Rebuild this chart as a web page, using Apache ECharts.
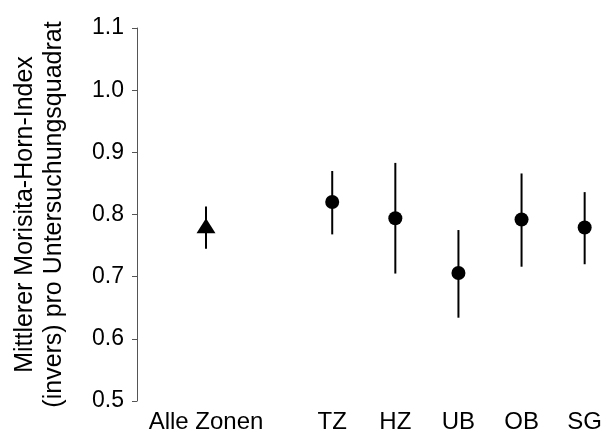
<!DOCTYPE html>
<html>
<head>
<meta charset="utf-8">
<script src="https://cdn.jsdelivr.net/npm/echarts@6/dist/echarts.min.js"></script>
<style>html,body{margin:0;padding:0;background:#fff}#c{width:605px;height:441px}</style>
</head>
<body>
<div id="c"></div>
<script>
var categories = ['Alle Zonen', '', 'TZ', 'HZ', 'UB', 'OB', 'SG'];
var means = [0.782, null, 0.820, 0.794, 0.706, 0.792, 0.779];
var lower = [0.745, null, 0.768, 0.705, 0.634, 0.716, 0.720];
var upper = [0.813, null, 0.870, 0.883, 0.775, 0.866, 0.836];
var markerShapes = ['triangle', null, 'circle', 'circle', 'circle', 'circle', 'circle'];
var yTicks = [0.5, 0.6, 0.7, 0.8, 0.9, 1.0, 1.1];
var yTitle = 'Mittlerer Morisita-Horn-Index\n(invers) pro Untersuchungsquadrat';

var FONT = '"Liberation Sans", Arial, Helvetica, sans-serif';

var errData = [];
var ptData = [];
categories.forEach(function (c, i) {
  if (means[i] == null) return;
  errData.push([i, lower[i], upper[i]]);
  var shape = markerShapes[i];
  ptData.push({
    value: [i, means[i]],
    symbol: shape,
    symbolSize: shape === 'triangle' ? [19, 15] : 14
  });
});

var chart = echarts.init(document.getElementById('c'), null, {renderer: 'canvas'});
chart.setOption({
  animation: false,
  backgroundColor: '#ffffff',
  grid: {left: 206, right: 19, top: 28, bottom: 40, containLabel: false},
  xAxis: {
    type: 'category',
    data: categories,
    boundaryGap: false,
    axisLine: {show: false},
    axisTick: {show: false},
    splitLine: {show: false},
    axisLabel: {
      interval: 0,
      color: '#000',
      fontFamily: FONT,
      fontSize: 24,
      margin: 9
    }
  },
  yAxis: {
    type: 'value',
    min: yTicks[0],
    max: yTicks[yTicks.length - 1],
    interval: 0.1,
    offset: 69,
    axisLine: {show: true, lineStyle: {color: '#555', width: 1}},
    axisTick: {show: true, inside: false, length: 5, lineStyle: {color: '#555', width: 1}},
    splitLine: {show: false},
    axisLabel: {
      color: '#000',
      fontFamily: FONT,
      fontSize: 23,
      margin: 13,
      formatter: function (v) { return v.toFixed(1); }
    },
    name: yTitle,
    nameLocation: 'middle',
    nameRotate: 90,
    nameGap: 68,
    nameTextStyle: {
      color: '#000',
      fontFamily: FONT,
      fontSize: 25,
      lineHeight: 29,
      align: 'center'
    }
  },
  series: [
    {
      type: 'custom',
      data: errData,
      renderItem: function (params, api) {
        var x = api.value(0);
        var p1 = api.coord([x, api.value(1)]);
        var p2 = api.coord([x, api.value(2)]);
        return {
          type: 'line',
          shape: {x1: p1[0], y1: p1[1], x2: p2[0], y2: p2[1]},
          style: {stroke: '#000', lineWidth: 2}
        };
      },
      z: 1
    },
    {
      type: 'scatter',
      data: ptData,
      itemStyle: {color: '#000', opacity: 1},
      z: 2
    }
  ]
});
</script>
</body>
</html>
